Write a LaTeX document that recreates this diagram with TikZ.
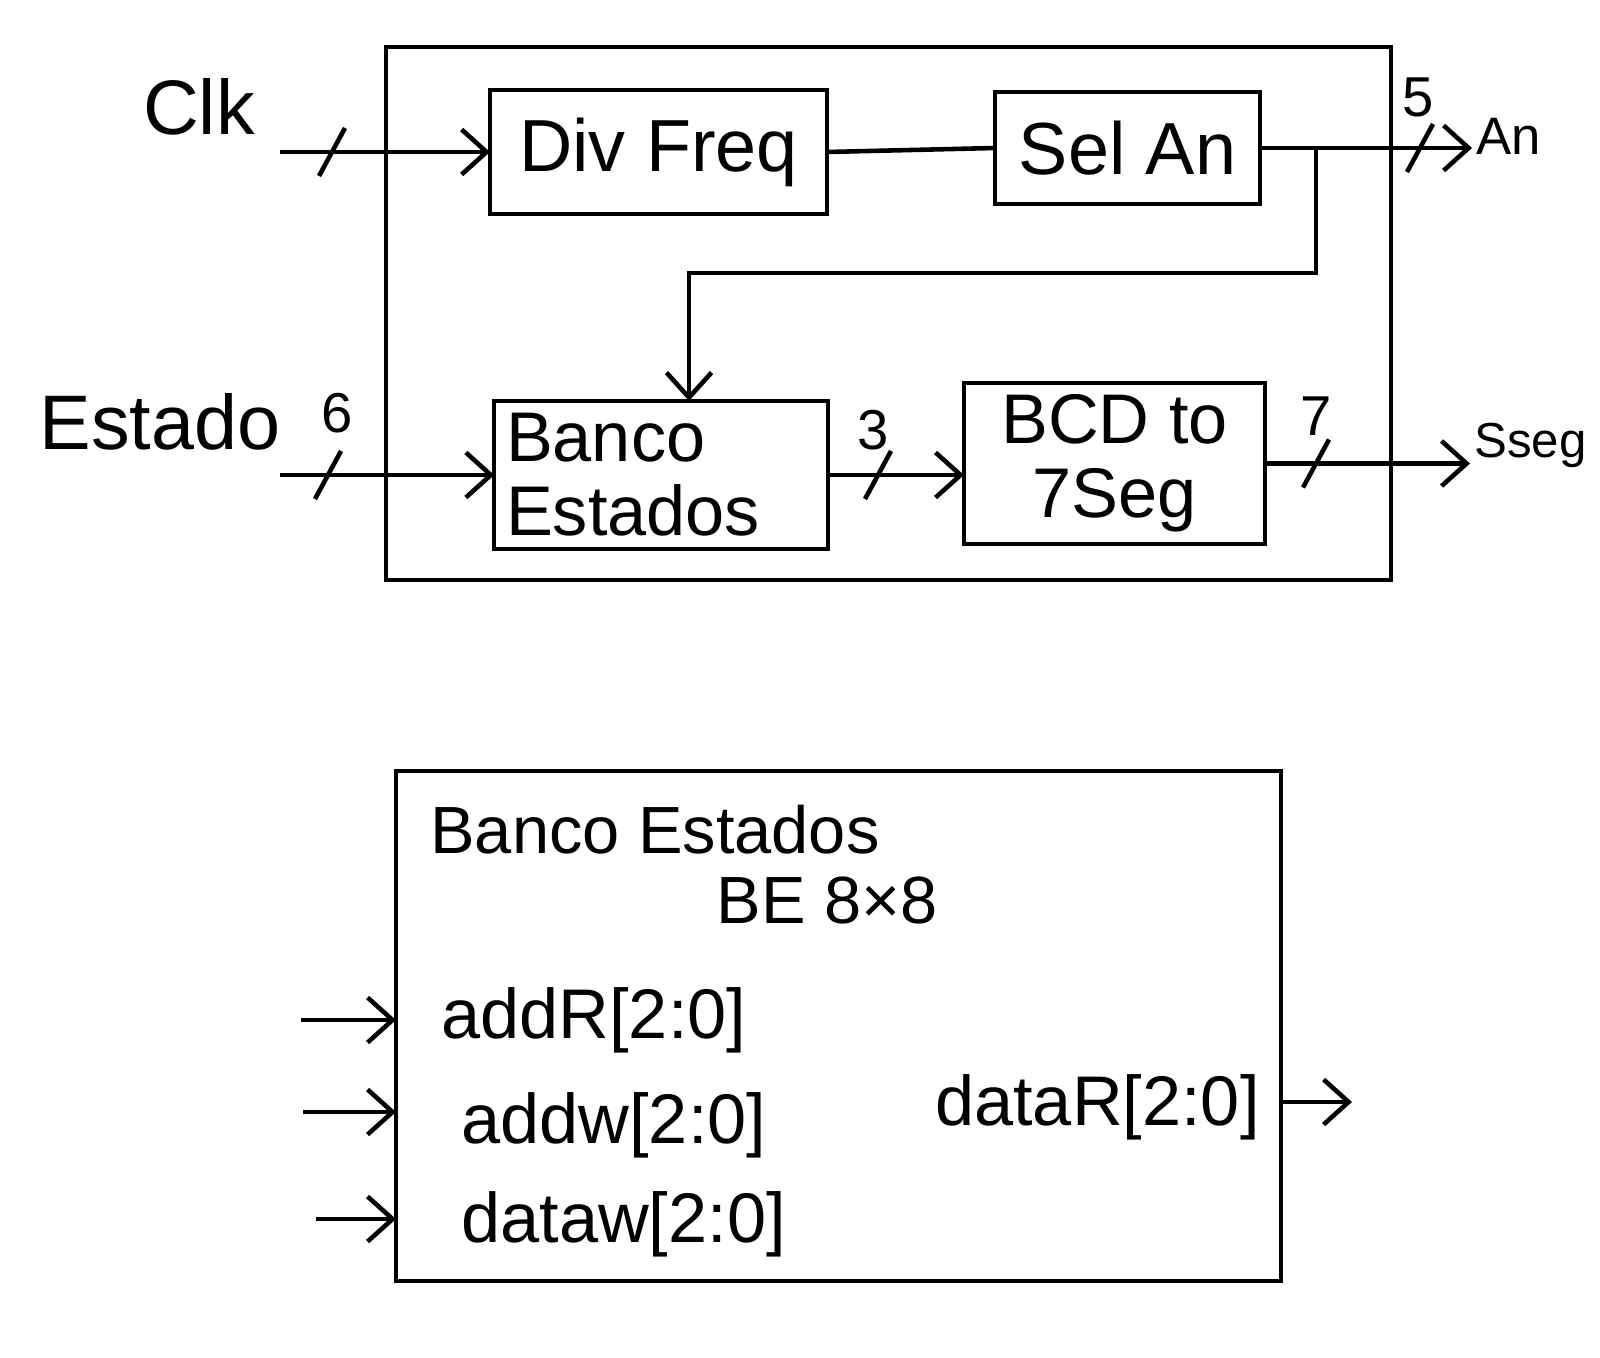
\documentclass[tikz,border=0pt]{standalone}
\usepackage{fontspec}
\setmainfont{Liberation Sans}
\usetikzlibrary{arrows.meta, positioning}

\begin{document}
\begin{tikzpicture}[
  blk/.style={draw, line width=1.2pt, outer sep=0pt, font=\fontsize{21}{23}\selectfont},
  sblk/.style={draw, line width=1.2pt, outer sep=0pt, font=\fontsize{20}{21}\selectfont},
  sig/.style={font=\fontsize{22}{24}\selectfont},
  outsig/.style={anchor=west, inner sep=1pt, font=\fontsize{15}{16}\selectfont},
  num/.style={font=\fontsize{16}{18}\selectfont},
  port/.style={font=\fontsize{20}{22}\selectfont},
  wire/.style={line width=1.3pt},
  arr/.style={line width=1.3pt, -{Straight Barb[length=2.5mm, width=4.5mm, line width=1.3pt]}},
  bus/.style={line width=1.3pt}
]
\useasboundingbox (0,0) rectangle (16,-13.57);

% top level
\node[draw, line width=1.2pt, outer sep=0pt, minimum width=10.05cm, minimum height=5.33cm] (sys) at (8.885,-3.135) {};

\node[blk, minimum width=3.37cm, minimum height=1.24cm] (divfreq) at (6.585,-1.52) {Div Freq};
\node[blk, minimum width=2.65cm, minimum height=1.12cm] (selan) at (11.275,-1.48) {Sel An};
\node[sblk, minimum width=3.32cm, minimum height=1.48cm, text width=3.1cm, align=left] (banco) at (6.61,-4.75) {Banco\\Estados};
\node[sblk, minimum width=3.01cm, minimum height=1.45cm, align=center] (bcd) at (11.145,-4.635) {BCD to\\7Seg};

\node[sig] (clk) at (1.99,-1.07) {Clk};
\node[sig] (estado) at (1.6,-4.22) {Estado};
\node[outsig] (an) at (14.72,-1.36) {An};
\node[outsig, font=\fontsize{14}{15}\selectfont] (sseg) at (14.7,-4.45) {Sseg};

\coordinate (clkin) at (2.8,-1.52);
\coordinate (estin) at (2.8,-4.75);
\coordinate (tap) at (13.16,-1.48);

\draw[arr] (clkin) -- (divfreq.west);
\draw[arr] (estin) -- (banco.west);
\draw[wire] (divfreq.east) -- (selan.west);
\draw[arr] (selan.east) -- (selan.east -| an.west);
\draw[arr] (tap) -- ++(0,-1.25) -| ([xshift=0.28cm]banco.north);
\draw[arr] (banco.east) -- (banco.east -| bcd.west);
\draw[arr] (bcd.east) -- (bcd.east -| sseg.west);

% bus widths
\foreach \x/\y in {3.32/-1.52, 3.28/-4.75, 8.78/-4.75, 13.16/-4.635, 14.2/-1.48}
  \draw[bus] (\x-0.13,\y-0.24) -- (\x+0.13,\y+0.24);
\node[num] (w6) at (3.37,-4.13) {6};
\node[num] (w3) at (8.73,-4.3) {3};
\node[num] (w7) at (13.16,-4.16) {7};
\node[num] (w5) at (14.18,-0.97) {5};

% Banco Estados detail
\node[draw, line width=1.2pt, outer sep=0pt, minimum width=8.85cm, minimum height=5.1cm] (be) at (8.385,-10.26) {};
\node[port, anchor=west, font=\fontsize{19}{20}\selectfont] (betitle) at (4.18,-8.3) {Banco Estados};
\node[port, font=\fontsize{19}{20}\selectfont] (besize) at (8.27,-9.0) {BE 8×8};

\node[port, anchor=west] (addr) at (4.29,-10.2) {addR[2:0]};
\node[port, anchor=west] (addw) at (4.49,-11.25) {addw[2:0]};
\node[port, anchor=west] (dataw) at (4.49,-12.24) {dataw[2:0]};
\node[port, anchor=east] (datar) at (12.72,-11.07) {dataR[2:0]};

\coordinate (addrin) at (3.01,-10.2);
\coordinate (addwin) at (3.03,-11.12);
\coordinate (datawin) at (3.16,-12.19);
\coordinate (dataout) at (13.52,-11.02);

\draw[arr] (addrin) -- (addrin -| be.west);
\draw[arr] (addwin) -- (addwin -| be.west);
\draw[arr] (datawin) -- (datawin -| be.west);
\draw[arr] (dataout -| be.east) -- (dataout);

\end{tikzpicture}
\end{document}
